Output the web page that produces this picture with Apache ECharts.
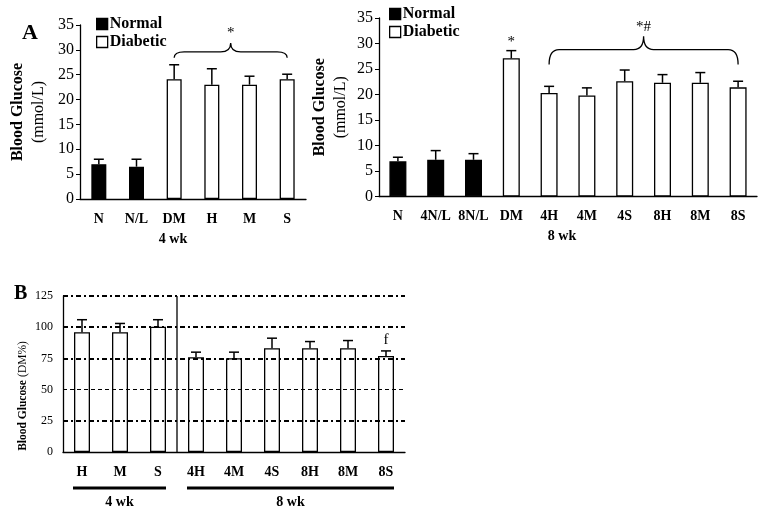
<!DOCTYPE html>
<html>
<head>
<meta charset="utf-8">
<title>Blood glucose</title>
<script src="https://cdn.jsdelivr.net/npm/echarts@6/dist/echarts.min.js"></script>
<style>
  html, body { margin: 0; padding: 0; background: #fff; }
  #chart { width: 764px; height: 515px; }
</style>
</head>
<body>
<div id="chart"></div>
<script>
// ---- data ----
// panel A, 4 weeks (mmol/L)
var cats4 = ['N', 'N/L', 'DM', 'H', 'M', 'S'];
var kind4 = ['Normal', 'Normal', 'Diabetic', 'Diabetic', 'Diabetic', 'Diabetic'];
var mean4 = [7.0, 6.5, 24.1, 23.0, 23.0, 24.1];
var sd4 = [1.0, 1.5, 2.9, 3.2, 1.7, 1.0];
var brace4 = [[2, 5, 28.4, 29.6, 31.4]];
var braceText4 = ['*'];

// panel A, 8 weeks (mmol/L)
var cats8 = ['N', '4N/L', '8N/L', 'DM', '4H', '4M', '4S', '8H', '8M', '8S'];
var kind8 = ['Normal', 'Normal', 'Normal', 'Diabetic', 'Diabetic', 'Diabetic', 'Diabetic', 'Diabetic', 'Diabetic', 'Diabetic'];
var mean8 = [6.9, 7.2, 7.2, 27.1, 20.3, 19.8, 22.6, 22.3, 22.3, 21.4];
var sd8 = [0.8, 1.8, 1.2, 1.5, 1.3, 1.5, 2.2, 1.6, 2.0, 1.2];
var brace8 = [[4, 9, 25.9, 28.8, 31.4]];
var braceText8 = ['*#'];
var marks8 = [[3, 28.6]];
var marksText8 = ['*'];

// panel B (% of DM)
var catsB = ['H', 'M', 'S', '4H', '4M', '4S', '8H', '8M', '8S'];
var meanB = [96, 96, 100.4, 76, 75.2, 83.2, 83.2, 83.2, 77];
var sdB = [10, 7, 5.6, 4, 4.8, 8, 5.3, 6.1, 4];
var gridLevelsB = [25, 50, 75, 100, 125];
var groupsB = [[0, 2], [3, 8]];
var groupNamesB = ['4 wk', '8 wk'];
var splitB = [[2, 3]];
var marksB = [[8, 81]];
var marksTextB = ['f'];

var FONT = 'Liberation Serif';

function pick(means, kinds, name) {
    return means.map(function (v, i) { return kinds[i] === name ? v : '-'; });
}
function errData(means, sds) {
    return means.map(function (v, i) { return [i, v, v + sds[i]]; });
}

function renderErr(params, api) {
    var x = api.value(0);
    var lo = api.coord([x, api.value(1)]);
    var hi = api.coord([x, api.value(2)]);
    var st = { stroke: '#000', lineWidth: 1.5 };
    return {
        type: 'group',
        children: [
            { type: 'line', shape: { x1: lo[0], y1: lo[1], x2: hi[0], y2: hi[1] }, style: st },
            { type: 'line', shape: { x1: hi[0] - 5, y1: hi[1], x2: hi[0] + 5, y2: hi[1] }, style: st }
        ]
    };
}

function braceRenderer(texts) {
    return function (params, api) {
        var a = api.coord([api.value(0), api.value(3)]);
        var b = api.coord([api.value(1), api.value(3)]);
        var yLow = api.coord([api.value(0), api.value(2)])[1];
        var yTop = api.coord([api.value(0), api.value(4)])[1];
        var y = a[1], x1 = a[0], x2 = b[0], xm = (x1 + x2) / 2;
        var r = 10;
        var d = 'M' + x1 + ',' + yLow + ' Q' + x1 + ',' + y + ' ' + (x1 + r) + ',' + y +
            ' L' + (xm - r) + ',' + y + ' Q' + xm + ',' + y + ' ' + xm + ',' + yTop +
            ' Q' + xm + ',' + y + ' ' + (xm + r) + ',' + y +
            ' L' + (x2 - r) + ',' + y + ' Q' + x2 + ',' + y + ' ' + x2 + ',' + yLow;
        return {
            type: 'group',
            children: [
                { type: 'path', shape: { pathData: d }, style: { stroke: '#000', lineWidth: 1.3, fill: null } },
                {
                    type: 'text',
                    style: {
                        text: texts[params.dataIndex], x: xm, y: yTop - 2,
                        textAlign: 'center', textVerticalAlign: 'bottom',
                        fontFamily: FONT, fontSize: 15, fill: '#000'
                    }
                }
            ]
        };
    };
}

function markRenderer(texts, gap) {
    return function (params, api) {
        var p = api.coord([api.value(0), api.value(1)]);
        return {
            type: 'text',
            style: {
                text: texts[params.dataIndex], x: p[0], y: p[1] - gap,
                textAlign: 'center', textVerticalAlign: 'bottom',
                fontFamily: FONT, fontSize: 15, fill: '#000'
            }
        };
    };
}

function renderSplit(params, api) {
    var a = api.coord([api.value(0), 0]);
    var b = api.coord([api.value(1), 125]);
    var x = (a[0] + b[0]) / 2;
    return {
        type: 'line',
        shape: { x1: x, y1: a[1], x2: x, y2: b[1] },
        style: { stroke: '#000', lineWidth: 1.3 }
    };
}

function renderGroup(params, api) {
    var a = api.coord([api.value(0), 0]);
    var b = api.coord([api.value(1), 0]);
    var x1 = a[0] - 9, x2 = b[0] + 8;
    return {
        type: 'group',
        children: [
            { type: 'line', shape: { x1: x1, y1: a[1] + 36, x2: x2, y2: a[1] + 36 }, style: { stroke: '#000', lineWidth: 3 } },
            {
                type: 'text',
                style: {
                    text: groupNamesB[params.dataIndex], x: (x1 + x2) / 2, y: a[1] + 43,
                    textAlign: 'center', textVerticalAlign: 'top',
                    fontFamily: FONT, fontSize: 14, fontWeight: 'bold', fill: '#000'
                }
            }
        ]
    };
}

function catAxis(gridIndex, data, name, pad) {
    return {
        type: 'category', gridIndex: gridIndex, data: data,
        name: name, nameLocation: 'middle', nameGap: 33,
        nameTextStyle: { fontFamily: FONT, fontSize: 14, fontWeight: 'bold', color: '#000', padding: pad },
        axisLine: { lineStyle: { color: '#000', width: 1.3 } },
        axisTick: { inside: true, length: 4, lineStyle: { color: '#000' } },
        axisLabel: { interval: 0, margin: 13, fontFamily: FONT, fontSize: 14, fontWeight: 'bold', color: '#000' }
    };
}

function valAxis(gridIndex, max, interval, name, nameGap, fontSize, rich, showTick, pad) {
    return {
        type: 'value', gridIndex: gridIndex, min: 0, max: max, interval: interval,
        name: name, nameLocation: 'middle', nameRotate: 90, nameGap: nameGap,
        nameTextStyle: { rich: rich, padding: pad },
        axisLine: { show: true, lineStyle: { color: '#000', width: 1.3 } },
        axisTick: { show: showTick, length: 4, lineStyle: { color: '#000' } },
        splitLine: { show: false },
        axisLabel: { margin: showTick ? 6 : 10, fontFamily: FONT, fontSize: fontSize, color: '#000' }
    };
}

var richA = {
    b: { fontFamily: FONT, fontSize: 16, fontWeight: 'bold', color: '#000', lineHeight: 21 },
    n: { fontFamily: FONT, fontSize: 16, color: '#000', lineHeight: 21 }
};
var richB = {
    b: { fontFamily: FONT, fontSize: 11.5, fontWeight: 'bold', color: '#000' },
    n: { fontFamily: FONT, fontSize: 11.5, color: '#000' }
};

var normalStyle = { color: '#000', borderColor: '#000', borderWidth: 1.3 };
var diabStyle = { color: '#fff', borderColor: '#000', borderWidth: 1.3 };

function legend(left, top) {
    return {
        left: left, top: top, orient: 'vertical', icon: 'rect',
        itemWidth: 11, itemHeight: 11, itemGap: 2, selectedMode: false,
        textStyle: { fontFamily: FONT, fontSize: 16, fontWeight: 'bold', color: '#000', padding: [0, 0, 0, -3] },
        data: [
            { name: 'Normal', itemStyle: normalStyle },
            { name: 'Diabetic', itemStyle: { color: '#fff', borderColor: '#000', borderWidth: 1.3 } }
        ]
    };
}

function init() {
    var myChart = echarts.init(document.getElementById('chart'));

    myChart.setOption({
        animation: false,
        backgroundColor: '#fff',
        title: [
            { text: 'A', left: 17, top: 17, textStyle: { fontFamily: FONT, fontSize: 22, fontWeight: 'bold', color: '#000' } },
            { text: 'B', left: 9, top: 279, textStyle: { fontFamily: FONT, fontSize: 20, fontWeight: 'bold', color: '#000' } }
        ],
        legend: [legend(91, 11), legend(384, 1)],
        grid: [
            { left: 80, top: 25, width: 226, height: 174 },
            { left: 379, top: 18, width: 378, height: 178.5 },
            { left: 63, top: 296, width: 342, height: 156 }
        ],
        xAxis: [
            catAxis(0, cats4, '4 wk', [0, 40, 0, 0]),
            catAxis(1, cats8, '8 wk', [0, 12, 0, 0]),
            catAxis(2, catsB, '', 0)
        ],
        yAxis: [
            valAxis(0, 35, 5, '{b|Blood Glucose}\n{n|(mmol/L)}', 31, 16, richA, true, 0),
            valAxis(1, 35, 5, '{b|Blood Glucose}\n{n|(mmol/L)}', 28, 16, richA, true, 0),
            valAxis(2, 125, 25, '{b|Blood Glucose} {n|(DM%)}', 34, 12, richB, false, [0, 44, 0, 0])
        ],
        series: [
            // 4 wk
            { name: 'Normal', type: 'bar', xAxisIndex: 0, yAxisIndex: 0, barWidth: 15, barGap: '-100%', itemStyle: normalStyle, data: pick(mean4, kind4, 'Normal') },
            { name: 'Diabetic', type: 'bar', xAxisIndex: 0, yAxisIndex: 0, barWidth: 15, barGap: '-100%', itemStyle: diabStyle, data: pick(mean4, kind4, 'Diabetic') },
            { type: 'custom', xAxisIndex: 0, yAxisIndex: 0, renderItem: renderErr, data: errData(mean4, sd4), z: 3 },
            { type: 'custom', xAxisIndex: 0, yAxisIndex: 0, renderItem: braceRenderer(braceText4), data: brace4, z: 3 },
            // 8 wk
            { name: 'Normal', type: 'bar', xAxisIndex: 1, yAxisIndex: 1, barWidth: 17, barGap: '-100%', itemStyle: normalStyle, data: pick(mean8, kind8, 'Normal') },
            { name: 'Diabetic', type: 'bar', xAxisIndex: 1, yAxisIndex: 1, barWidth: 17, barGap: '-100%', itemStyle: diabStyle, data: pick(mean8, kind8, 'Diabetic') },
            { type: 'custom', xAxisIndex: 1, yAxisIndex: 1, renderItem: renderErr, data: errData(mean8, sd8), z: 3 },
            { type: 'custom', xAxisIndex: 1, yAxisIndex: 1, renderItem: braceRenderer(braceText8), data: brace8, z: 3 },
            { type: 'custom', xAxisIndex: 1, yAxisIndex: 1, renderItem: markRenderer(marksText8, 1), data: marks8, z: 3 },
            // panel B
            {
                type: 'bar', xAxisIndex: 2, yAxisIndex: 2, barWidth: 16, itemStyle: diabStyle, data: meanB,
                markLine: {
                    silent: true, symbol: 'none', label: { show: false },
                    lineStyle: { color: '#000', type: [5, 3, 2, 3] },
                    data: gridLevelsB.map(function (v) {
                        return { yAxis: v, lineStyle: { width: v === 50 ? 1 : 2.2, type: v === 50 ? [4, 3] : [5, 3, 2, 3] } };
                    })
                }
            },
            { type: 'custom', xAxisIndex: 2, yAxisIndex: 2, renderItem: renderErr, data: errData(meanB, sdB), z: 3 },
            { type: 'custom', xAxisIndex: 2, yAxisIndex: 2, renderItem: renderSplit, data: splitB, z: 3 },
            { type: 'custom', xAxisIndex: 2, yAxisIndex: 2, renderItem: renderGroup, data: groupsB, z: 3 },
            { type: 'custom', xAxisIndex: 2, yAxisIndex: 2, renderItem: markRenderer(marksTextB, 3), data: marksB, z: 3 }
        ]
    });
}

document.addEventListener("DOMContentLoaded", function (event) {
    init();
});
</script>
</body>
</html>
